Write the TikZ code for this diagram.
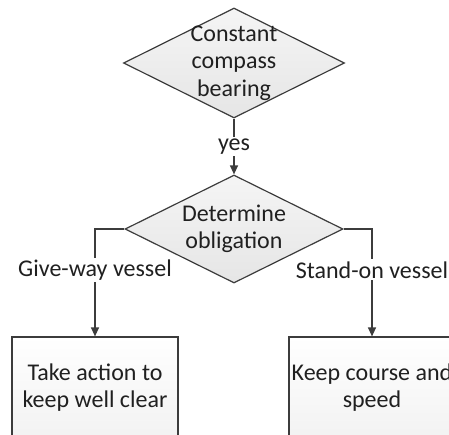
\documentclass[tikz,border=0pt]{standalone}
\usepackage{fontspec}
\setmainfont{Carlito}
\usetikzlibrary{shapes.geometric,arrows.meta}
\definecolor{edge}{HTML}{3C3C3C}
\definecolor{txt}{HTML}{202020}
\tikzset{
  decision/.style={diamond, draw=edge, line width=1.2pt, inner sep=0pt,
    top color=gray!8, bottom color=gray!20},
  action/.style={rectangle, draw=edge, line width=1.2pt, inner sep=0pt,
    minimum width=166pt, minimum height=101pt,
    top color=white, bottom color=gray!10},
  caption/.style={text=txt, align=center, inner sep=0pt,
    font=\fontsize{24}{27.5}\selectfont},
  edgelabel/.style={caption, fill=white, inner sep=2pt},
  flow/.style={draw=edge, line width=1.2pt, -{Triangle[length=9pt,width=8pt]}}
}
\begin{document}
\begin{tikzpicture}[x=1pt,y=-1pt]
  \useasboundingbox (0,0) rectangle (449,434);
  \clip (0,0) rectangle (449,434);

  % decisions
  \node[decision, minimum width=221pt, minimum height=110pt] (d1) at (234,63) {};
  \node[caption] (d1t) at (d1) {Constant\\compass\\bearing};
  \node[decision, minimum width=218pt, minimum height=108pt] (d2) at (234,229) {};
  \node[caption] (d2t) at (d2) {Determine\\obligation};

  % actions
  \node[action] (a1) at (95,387.5) {};
  \node[caption] (a1t) at (a1) {Take action to\\keep well clear};
  \node[action] (a2) at (372,387.5) {};
  \node[caption] (a2t) at (a2) {Keep course and\\speed};

  % connectors
  \draw[flow] (d1.south) -- node[edgelabel] (yes) {yes} (d2.north);
  \draw[flow] (d2.west) -| node[edgelabel, pos=0.69] (gw) {Give-way vessel} (a1.north);
  \draw[flow] (d2.east) -| node[edgelabel, pos=0.69] (so) {Stand-on vessel} (a2.north);
\end{tikzpicture}
\end{document}
